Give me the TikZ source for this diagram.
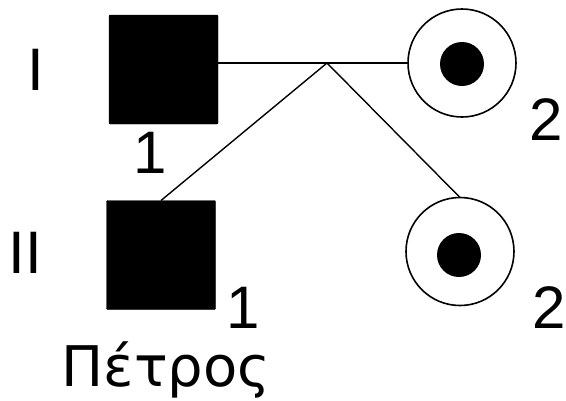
\documentclass[tikz,border=0pt]{standalone}
\usepackage{fontspec}
\setmainfont{Liberation Sans}
\newfontfamily\greekfont{DejaVu Sans}
\begin{document}
\begin{tikzpicture}[x=1pt,y=-1pt,
  affsq/.style={draw=black,fill=black,rounded corners=1pt,minimum width=109pt,minimum height=109pt,inner sep=0pt,outer sep=0pt},
  carrier/.style={draw=black,line width=1.6pt,circle,minimum size=108pt,inner sep=0pt,outer sep=0pt},
  dot/.style={fill=black,circle,minimum size=44pt,inner sep=0pt},
  conn/.style={line width=1.4pt},
  lbl/.style={anchor=base,inner sep=0pt,font=\fontsize{60}{60}\selectfont}]
\useasboundingbox (0,0) rectangle (566,400);
% generation labels
\node[lbl] (gI) at (36,90) {I};
\node[lbl] (gII) at (25,273) {II};
% individuals
\node[affsq] (sq1) at (163.5,69.5) {};
\node[carrier] (c1) at (462,63) {};
\node[dot] (d1) at (462,64) {};
\node[affsq] (sq2) at (161,255) {};
\node[carrier] (c2) at (460,251.5) {};
\node[dot] (d2) at (459,255) {};
% numbers
\node[lbl] (n1) at (150,173) {1};
\node[lbl] (n2) at (546,140) {2};
\node[lbl] (n3) at (243,328) {1};
\node[lbl] (n4) at (549,328) {2};
\node[lbl,font=\greekfont\fontsize{56}{56}\selectfont] (name) at (166,386) {Πέτρος};
% connectors
\coordinate (j) at (327,63);
\draw[conn] (j -| sq1.east) -- (c1.west);
\draw[conn] (j) -- (sq2.north);
\draw[conn] (j) -- (c2.north);
\end{tikzpicture}
\end{document}
